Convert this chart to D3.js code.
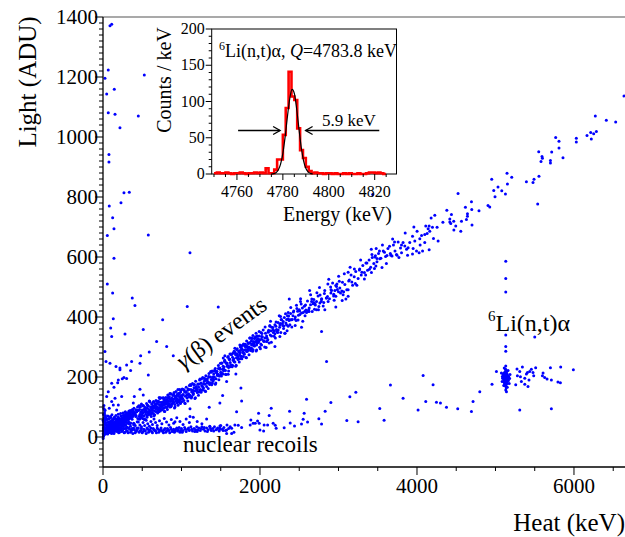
<!DOCTYPE html>
<html><head><meta charset="utf-8">
<script src="https://cdn.jsdelivr.net/npm/d3@7"></script>
<style>body{margin:0;background:#fff}svg{display:block}</style>
</head><body><svg id="c" width="625" height="537"></svg>
<script>
// ---------------- DATA (Heat keV, Light ADU) ----------------
const xTickLabels = [0, 2000, 4000, 6000];
const yTickLabels = [0, 200, 400, 600, 800, 1000, 1200, 1400];

const originBlob = [[5,12],[8,25],[10,18],[12,35],[15,8],[18,22],[20,45],[22,15],[25,30],[28,55],[30,10],[32,20],[35,40],[38,28],[40,15],[42,60],[45,22],[48,35],[50,12],[52,48],[55,28],[58,18],[60,38],[62,70],[65,25],[68,14],[70,50],[72,32],[75,20],[78,42],[80,60],[82,16],[85,28],[88,36],[90,22],[92,52],[95,14],[98,40],[100,30],[102,65],[105,18],[108,45],[110,25],[112,35],[115,55],[118,20],[120,40],[122,28],[125,48],[128,15],[130,33],[132,58],[135,24],[138,42],[140,30],[142,18],[145,50],[148,36],[150,26],[152,62],[155,40],[158,20],[160,46],[162,32],[165,54],[168,28],[170,38],[172,22],[175,48],[178,60],[180,34],[182,42],[185,26],[188,52],[190,36],[192,66],[195,44],[198,30],[200,56],[205,40],[208,48],[210,32],[215,60],[218,44],[220,52],[225,38],[228,70],[230,48],[235,56],[238,42],[240,64],[245,50],[248,36],[250,58],[255,46],[258,72],[260,52],[265,62],[268,44],[270,56],[275,68],[278,50],[280,60],[285,74],[288,54],[290,64],[295,48],[298,80],[300,60],[305,70],[308,56],[310,66],[315,78],[318,60],[320,70],[325,58],[328,84],[330,66],[335,74],[338,62],[340,80],[345,70],[348,88],[350,64],[355,76],[360,70],[365,84],[370,74],[375,92],[380,68],[385,80],[390,74],[395,96],[400,82],[410,76],[420,90],[430,84],[440,100],[450,88],
[15,60],[20,80],[10,95],[30,72],[8,50],[25,88],[12,105],[18,66],
[5,40],[14,30],[24,50],[34,66],[44,42],[54,58],[64,36],[74,62],[84,46],[94,68],[104,52],[114,74],[124,58],[134,40],[144,66],[154,48],[164,72],[174,56],[184,40],[194,76],[204,62],[214,48],[224,78],[234,60],[244,44],[254,80],[264,66],[274,38],[284,84],[294,70],
[3,10],[6,2],[2,-5],[9,5],[4,30],[1,55],[7,75],
[210,30],[230,24],[250,36],[270,28],[290,40],[310,32],[330,44],[350,36],[370,28],[390,46],[410,38],[430,30],[450,50],[470,40],[490,34],[510,48],[530,38],[550,56],[570,44],[590,36],[610,52],[630,42],[650,60],[670,48],[690,38],[720,54],[750,44],[780,62],[810,50],[840,40],[870,58],[900,46],[940,64],[980,52],[1020,42],[1060,60],[1100,48],[1150,66],[1200,52],[1260,44],[1320,60]];

const gammaBand = [[460,60],[465,92],[470,75],[475,100],[480,66],[485,84],[490,110],[495,72],
[500,90],[505,62],[510,80],[515,104],[520,70],[525,92],[530,84],[535,58],[540,98],[545,76],[550,88],[555,112],[560,70],[565,96],[570,82],[575,104],[580,74],[585,92],[590,120],[595,86],
[600,78],[605,100],[610,88],[615,68],[620,110],[625,94],[630,82],[635,104],[640,96],[645,76],[650,116],[655,100],[660,86],[665,108],[670,94],[675,122],[680,84],[685,102],[690,112],[695,90],
[700,98],[705,120],[710,84],[715,108],[720,96],[725,128],[730,104],[735,90],[740,116],[745,102],[750,110],[755,92],[760,130],[765,106],[770,118],[775,96],[780,124],[785,108],[790,114],[795,100],
[800,132],[805,110],[810,98],[815,124],[820,116],[825,140],[830,104],[835,120],[840,112],[845,134],[850,100],[855,126],[860,118],[865,144],[870,108],[875,130],[880,122],[885,112],[890,138],[895,124],
[900,116],[905,148],[910,128],[915,108],[920,136],[925,120],[930,152],[935,130],[940,114],[945,140],[950,126],[955,158],[960,118],[965,136],[970,146],[975,124],[980,132],[985,112],[990,150],[995,138],
[1000,128],[1010,160],[1020,142],[1030,122],[1040,150],[1050,136],[1060,166],[1070,130],[1080,156],[1090,144],[1100,172],[1110,138],[1120,158],[1130,150],[1140,178],[1150,142],[1160,164],[1170,154],[1180,186],[1190,160],
[1200,148],[1210,176],[1220,166],[1230,190],[1240,156],[1250,180],[1260,170],[1270,198],[1280,162],[1290,186],[1300,176],[1310,204],[1320,168],[1330,194],[1340,184],[1350,212],[1360,178],[1370,200],[1380,192],[1390,220],
[1400,186],[1410,210],[1420,200],[1430,228],[1440,194],[1450,218],[1460,208],[1470,238],[1480,204],[1490,226],[1500,216],[1510,246],[1520,212],[1530,236],[1540,226],[1550,256],[1560,222],[1570,246],[1580,236],[1590,266],
[1600,232],[1610,258],[1620,248],[1630,276],[1640,240],[1650,266],[1660,256],[1670,286],[1680,250],[1690,274],[1700,264],[1710,294],[1720,258],[1730,284],[1740,274],[1750,300],[1760,268],[1770,292],[1780,282],[1790,310],
[1800,276],[1810,302],[1820,292],[1830,320],[1840,286],[1850,312],[1860,300],[1870,330],[1880,296],[1890,320],[1900,310],[1910,338],[1920,304],[1930,328],[1940,318],[1950,346],[1960,312],[1970,336],[1980,326],[1990,352],
[3123,549],[3051,516],[3123,491],[3081,508],[3017,497],[3059,474],[3123,469],[2966,469],[3026,480],[2954,488],[2911,488],[2903,480],[2975,502],[2966,433],[3047,455],[3094,460],[2848,463],[2868,452],[2784,458],[2763,447],[2720,452],[2686,458],[2750,435],[2677,444],[2644,441],[2627,430],[2614,419],[2593,415],[2572,419],[2550,415],[2529,413],[2508,408],[2479,419],[2720,424],[2657,452],[2826,424],[2373,460],[2517,461],[2359,415],
[2359,393],[2402,391],[2338,374],[2275,391],[2253,374],[2296,385],[2232,357],[2203,369],[2168,357],[2190,344],[2147,337],[2126,369],[2105,352],[2084,337],[2041,357],[2062,330],[2020,335],[1999,324],[1965,337],[1956,318],[1913,318],[1935,330],[1893,307],[1871,330],[1850,313],[1829,302],[1795,307],[1766,296],[1744,307],[1702,291],[1680,296],[1659,280],[1617,277],[1595,268],[1553,271],[1532,263],[1744,280],[1829,285],[1893,296],[1956,307],[2020,307],[2084,318],[2117,313],[2190,302],[2359,369],[2253,335],[2317,346],
[2010,310],[2030,334],[2050,318],[2070,346],[2090,330],[2110,356],[2130,340],[2150,366],[2170,348],[2190,374],[2210,358],[2230,382],[2250,366],[2270,392],[2290,372],[2310,398],[2330,380],[2350,404],[2370,388],[2390,412],[2410,392],[2430,420],[2450,400],[2470,428],[2490,406],[2020,326],[2060,300],[2100,324],[2140,354],[2180,336],[2220,350],[2260,378],[2300,362],[2340,392],[2380,374],[2420,404],[2460,388],[2500,424],[2540,430],[2580,440],[2620,424],[2660,460],[2700,444],[2740,470],[2780,452],[2820,478],[2860,468],[2900,500],[2940,476],[2980,510],[3000,484],
[3130,520],[3160,540],[3180,506],[3200,534],[3220,552],[3250,528],[3270,560],[3290,540],[3310,572],[3330,548],[3350,580],[3370,556],[3390,590],[3410,566],[3430,598],[3450,578],[3470,604],[3490,584],[3510,612],[3540,596],[3570,620],[3600,602],[3630,628],[3660,612],[3700,640],[3720,620],[3760,650],[3790,630],
[4523,812],[4617,766],[4643,744],[4643,736],[4567,719],[4494,703],[4468,719],[4418,727],[4439,742],[4418,717],[4430,712],[4558,686],[4630,725],[4227,739],[4112,703],[4155,703],[4142,694],[4163,686],[4099,675],[4197,699],[4256,699],[4129,678],[4001,686],[4058,672],[3943,669],[4036,661],[3972,653],[3908,648],[4099,648],[3823,648],[3803,640],[3845,637],[3887,631],[3867,626],[3951,628],[3994,620],[4071,620],[4155,624],[4269,653],[3803,614],[3739,608],[3667,606],[3526,594],[3463,600],[3943,610],[4027,614],
[6637,1137],[6272,1070],[6412,1056],[6531,1050],[5767,998],[5809,986],[5809,963],[6030,996],[6030,983],[6166,1005],[6213,1015],[6251,1011],[6285,1018],[6221,993],[5551,951],[5593,935],[5598,929],[5580,918],[5716,950],[5700,922],[5700,913],[5860,931],[5147,879],[5207,866],[4952,859],[5032,833],[4978,822],[5080,821],[4994,801],[5127,810],[5152,843],[5394,851],[5478,848],[5491,859],[5554,869],[5538,777],[4694,784],[4698,758],[4790,754],[4905,772],[4927,767],[4701,707],
[3420,548],[3480,628],[3560,640],[3610,578],[3690,660],[3770,598],[3850,680],[3880,606],[3960,700],[4040,640],[4180,730],[4210,662],[4330,716],[4380,756],[4470,690]];

const gammaBandSpread = [[300,33],[313,71],[326,51],[339,85],[352,47],[365,69],[378,86],[391,41],[404,78],[417,68],[430,90],[443,62],[456,104],[469,60],[482,82],[495,75],[508,105],[521,60],[534,96],[547,86],[560,66],[573,103],[586,83],[599,117],[612,78],[625,100],[638,116],[651,71],[664,107],[677,97],[690,118],[703,90],[716,132],[729,87],[742,108],[755,102],[768,131],[781,86],[794,122],[807,112],[820,92],[833,129],[846,109],[859,143],[872,104],[885,126],[898,142],[911,97],[924,133],[937,123],[950,144],[963,116],[976,158],[989,113],[1002,134],[1015,128],[1028,158],[1041,113],[1054,150],[1067,140],[1080,120],[1093,158],[1106,138],[1119,172],[1132,134],[1145,156],[1158,173],[1171,128],[1184,165],[1197,155],[1210,177],[1223,150],[1236,193],[1249,149],[1262,172],[1275,166],[1288,196],[1301,153],[1314,190],[1327,181],[1340,162],[1353,200],[1366,181],[1379,216],[1392,179],[1405,201],[1418,219],[1431,176],[1444,214],[1457,205],[1470,228],[1483,203],[1496,246],[1509,203],[1522,226],[1535,221],[1548,252],[1561,209],[1574,247],[1587,238],[1600,220],[1613,259],[1626,240],[1639,275],[1652,238],[1665,261],[1678,279],[1691,236],[1704,273],[1717,264],[1730,287],[1743,261],[1756,304],[1769,261],[1782,284],[1795,279],[1808,309],[1821,265],[1834,302],[1847,293],[1860,274],[1873,313],[1886,293],[1899,328],[1912,291],[1925,313],[1938,331],[1951,287],[1964,324],[1977,315],[1990,337],
[306,73],[319,46],[332,87],[345,43],[358,65],[371,59],[384,88],[397,44],[410,81],[423,71],[436,51],[449,89],[462,69],[475,104],[488,65],[501,87],[514,103],[527,59],[540,95],[553,84],[566,106],[579,78],[592,119],[605,75],[618,96],[631,89],[644,118],[657,74],[670,110],[683,99],[696,80],[709,117],[722,96],[735,131],[748,92],[761,113],[774,129],[787,85],[800,121],[813,110],[826,132],[839,104],[852,145],[865,101],[878,122],[891,115],[904,144],[917,100],[930,136],[943,125],[956,106],[969,143],[982,122],[995,157],[1008,118],[1021,140],[1034,156],[1047,112],[1060,149],[1073,139],[1086,160],[1099,133],[1112,175],[1125,130],[1138,152],[1151,146],[1164,175],[1177,131],[1190,168],[1203,158],[1216,139],[1229,177],[1242,158],[1255,193],[1268,156],[1281,178],[1294,195],[1307,152],[1320,189],[1333,180],[1346,202],[1359,175],[1372,218],[1385,174],[1398,197],[1411,192],[1424,223],[1437,180],[1450,218],[1463,209],[1476,191],[1489,230],[1502,211],[1515,247],[1528,210],[1541,233],[1554,251],[1567,208],[1580,246],[1593,237],[1606,260],[1619,234],[1632,277],[1645,234],[1658,257],[1671,251],[1684,282],[1697,239],[1710,277],[1723,268],[1736,250],[1749,288],[1762,269],[1775,305],[1788,268],[1801,290],[1814,308],[1827,264],[1840,301],[1853,292],[1866,314],[1879,288],[1892,330],[1905,286],[1918,309],[1931,303],[1944,334],[1957,290],[1970,327],[1983,318],[1996,299],
[2005,294],[2025,345],[2045,321],[2065,367],[2085,318],[2105,349],[2125,372],[2145,316],[2165,365],[2185,353],[2205,383],[2225,348],[2245,404],[2265,348],[2285,378],[2305,370],[2325,411],[2345,354],[2365,403],[2385,391],[2405,367],[2425,417],[2445,393],[2465,439],[2485,390],[2505,420],[2525,443],[2545,386],[2565,436],[2585,423],[2605,453],[2625,418],[2645,474],[2665,418],[2685,448],[2705,440],[2725,481],[2745,424],[2765,473],[2785,461],[2805,437],[2825,488],[2845,463],[2865,510],[2885,461],[2905,491],[2925,513],[2945,456],[2965,505],[2985,492],
[3010,519],[3042,487],[3074,544],[3106,491],[3138,523],[3170,517],[3202,560],[3234,506],[3266,557],[3298,549],[3330,527],[3362,580],[3394,559],[3426,608],[3458,562],[3490,595],[3522,620],[3554,565],[3586,616],[3618,605],[3650,636],[3682,603],[3714,650],[3746,606],
[2012,348],[2078,298],[2134,386],[2196,330],[2262,402],[2318,346],[2392,432],[2448,372],[2516,452],[2574,404],[2632,488],[2694,426],[2758,498],[2812,448],[2876,526],[2938,470],[3002,536],[3066,484],[3148,566],[3214,512],[3282,590],[3346,540],[3418,626],[3476,570]];

const recoilBand = [[20,14],[40,20],[60,10],[80,24],[100,16],[120,22],[140,12],[160,26],[180,18],[200,14],[220,24],[240,18],[260,28],[280,16],[300,22],[320,14],[340,26],[360,20],[380,12],[400,24],[420,18],[440,28],[460,16],[480,22],[500,14],[520,26],[540,20],[560,30],[580,16],[600,24],[620,18],[640,28],[660,22],[680,14],[700,26],[720,20],[740,30],[760,18],[780,24],[800,16],[820,28],[840,22],[860,32],[880,18],[900,26],[920,20],[940,30],[960,24],[980,16],[1000,28],[1020,22],[1040,32],[1060,18],[1080,26],[1100,22],[1120,34],[1140,20],[1160,28],[1180,24],[1200,18],[1220,30],[1240,22],[1260,34],[1280,26],[1300,20],[1320,30],[1340,24],[1360,36],[1380,22],[1400,28],[1420,34],[1440,24],[1460,30],[1480,20],[1500,38],[1520,26],[1540,32],[1560,22],[1580,40],[1600,28],[1620,34],
[10,22],[30,28],[50,18],[70,30],[90,24],[110,12],[130,28],[150,20],[170,30],[190,22],[210,16],[230,30],[250,22],[270,14],[290,28],[310,20],[330,30],[350,16],[370,24],[390,30],[410,14],[430,22],[450,30],[470,20],[490,28],[510,18],[530,22],[550,12],[570,26],[590,20],[610,30],[630,14],[650,24],[670,20],[690,30],[710,16],[730,24],[750,22],[770,14],[790,28],[810,20],[830,24],[850,14],[870,26],[890,22],[910,16],[930,26],[950,20],[970,32],[990,22],[1010,16],[1050,26],[1090,30],[1130,26],[1170,18],[1210,24],[1250,28],[1290,32],[1330,18],[1370,28],[1410,20],[1450,26],[1490,30],[1530,22],
[1489,37],[1489,26],[1575,23],[1639,29],[1680,40],[1723,39],[1766,32],[1575,12],[1639,12],[1668,16]];

const strayPoints = [[89,1371],[111,1376],[67,1223],[25,1196],[526,1207],[144,1159],[47,1143],[67,1081],[153,1076],[450,1070],[216,1031],[76,942],[76,917],[267,814],[335,816],[229,781],[80,770],[123,731],[140,694],[55,672],[577,673],[140,596],[1108,614],[55,510],[123,480],[373,463],[3436,808],
[407,438],[1073,435],[1468,433],[131,394],[760,391],[513,358],[98,363],[280,343],[683,318],[589,283],[25,285],[38,252],[89,246],[365,252],[352,222],[480,271],[471,246],[301,240],[216,230],[267,198],[187,181],[140,166],[246,194],[301,195],[399,135],[471,159],[2784,352],[2848,252],[1108,94],[1353,99],[2593,126],
[166,235],[216,224],[577,207],[195,190],[111,179],[67,151],[47,135],[153,129],[238,135],[513,140],[111,118],[195,107],[25,90],[80,96],[131,107],[174,90],[258,79],[386,113],[471,101],[917,51],[1108,68],[1193,34],[1362,34],[811,302],[895,271],[111,335],
[4078,205],[4205,174],[3662,173],[3145,134],[3221,149],[3823,129],[4112,118],[4248,116],[4299,113],[4376,99],[4519,94],[4694,85],[4714,118],[4800,151],[4014,90],[3526,95],[3581,56],[3250,51],[3106,55],[2903,115],[2830,86],[2750,61],[2784,43],[2563,79],[2550,59],[2529,43],[2606,50],[2377,86],[2385,47],[2440,37],[2308,31],[2143,96],[2117,72],[2168,46],[2194,39],[2206,29],[2097,40],[2053,40],[1982,79],[1969,53],[1990,46],[1999,23],[2046,20],[1913,46],[1884,57],[1875,40],[1939,46],[1489,113],[1524,138],[1766,120],[1757,163],[1702,84],[1575,185],[1693,210],[1595,209],[2529,366]];

const liPoints = [[5131,196],[5120,190],[5142,202],[5110,200],[5150,188],[5125,210],[5138,184],[5115,178],[5145,212],[5128,176],[5135,220],[5105,192],[5160,196],[5118,206],[5148,180],[5132,170],[5122,186],[5140,194],[5112,214],[5155,206],[5127,200],[5137,190],[5117,196],[5145,198],[5130,184],[5124,216],[5139,176],[5108,184],[5152,192],[5133,208],[5119,172],[5143,218],[5100,204],[5165,188],[5128,226],[5136,164],[5090,196],[5170,200],[5126,192],[5134,200],
[5085,185],[5180,195],[5095,210],[5175,178],[5105,172],[5160,222],[5088,202],[5185,208],[5112,230],[5150,166],
[5131,586],[5131,528],[5131,483],[5131,340],[5131,302],[5131,286],[5131,237],[5131,224],[5140,151],[5131,157],[5148,185],
[5012,218],[5075,213],[4956,176],[5258,174],[5279,204],[5309,218],[5274,227],[5343,233],[5318,201],[5330,185],[5373,196],[5373,176],[5414,168],[5394,210],[5407,215],[5436,218],[5457,226],[5512,231],[5478,215],[5487,204],[5427,190],[5606,213],[5598,204],[5627,198],[5657,193],[5700,231],[5712,190],[5796,183],[5827,181],[5831,233],[5992,224],[5500,333],[5309,90],[5712,94]];

// Inset: histogram (bin start 4750, width 1.25 keV)
const histStart = 4750;
const histBinWidth = 1.25;
const histCounts = [1,2,1,1,2,1,0,1,1,2,1,0,1,1,2,1,2,1,8,1,1,6,20,20,54,91,141,107,102,63,33,22,10,4,1,2,1,1,0,1,1,0,1,0,0,1,0,1,0,0,1,0,0,1,2,2,1,2,1,0];
const fitEnergy = [4775,4776,4777,4778,4779,4780,4781,4782,4783,4784,4785,4786,4787,4788,4789,4790,4791,4792,4793];
const fitCounts = [0.1,0.5,1.8,5.4,13.5,28.5,51.6,79.5,104,116.6,111,90,62.5,36.9,18.5,7.9,2.9,0.9,0.2];
const insetXTicks = [4760, 4780, 4800, 4820];
const insetYTicks = [0, 50, 100, 150, 200];

// ---------------- DRAW ----------------
const FONT = '"Liberation Serif"';
const svg = d3.select("#c");
const T = (sel) => sel.append("text").style("font-family", FONT).attr("fill", "#000");
const x = d3.scaleLinear().domain([0, 6650]).range([103, 625]);
const y = d3.scaleLinear().domain([-100, 1400]).range([467, 17]);

const allPts = [].concat(originBlob, recoilBand, gammaBand, gammaBandSpread, strayPoints, liPoints);
svg.append("g").selectAll("circle").data(allPts).join("circle")
  .attr("cx", d => x(d[0])).attr("cy", d => y(d[1])).attr("r", 1.5).attr("fill", "#0000ff");

svg.append("line").attr("x1", x(0)).attr("x2", 625).attr("y1", y(1400)).attr("y2", y(1400))
  .attr("stroke", "#8c8c8c").attr("stroke-width", 1.5);

const ax = svg.append("g").attr("stroke", "#000").attr("stroke-width", 1);
ax.append("line").attr("x1", x(0)).attr("x2", x(0)).attr("y1", y(-100)).attr("y2", y(1400)).attr("stroke-width", 1.3);
d3.range(-100, 1401, 20).forEach(v => {
  const major = v % 200 === 0;
  ax.append("line").attr("x1", x(0)).attr("x2", x(0) - (major ? 8 : 4)).attr("y1", y(v)).attr("y2", y(v));
});
ax.append("line").attr("x1", x(0)).attr("x2", 625).attr("y1", y(-100)).attr("y2", y(-100)).attr("stroke-width", 1.3);
d3.range(0, 6651, 500).forEach(v => {
  const major = v % 2000 === 0;
  ax.append("line").attr("x1", x(v)).attr("x2", x(v)).attr("y1", y(-100)).attr("y2", y(-100) + (major ? 8 : 4));
});

const txt = svg.append("g");
yTickLabels.forEach(v => T(txt).attr("x", x(0) - 5).attr("y", y(v) + 7)
  .attr("text-anchor", "end").attr("font-size", 21).text(v));
xTickLabels.forEach(v => T(txt).attr("x", x(v)).attr("y", 493)
  .attr("text-anchor", "middle").attr("font-size", 21).text(v));

T(txt).attr("transform", "translate(36,82) rotate(-90)").attr("text-anchor", "middle")
  .attr("font-size", 25).text("Light (ADU)");
T(txt).attr("x", 625).attr("y", 531).attr("text-anchor", "end")
  .attr("font-size", 25).text("Heat (keV)");

const ev = T(txt).attr("transform", "translate(226,339) rotate(-36)").attr("text-anchor", "middle").attr("font-size", 24);
ev.append("tspan").attr("font-style", "italic").text("γ");
ev.append("tspan").text("(β) events");
T(txt).attr("x", 183).attr("y", 452).attr("font-size", 23).text("nuclear recoils");
const li = T(txt).attr("x", 488).attr("y", 331).attr("font-size", 24);
li.append("tspan").attr("font-size", 15).attr("dy", -10).text("6");
li.append("tspan").attr("dy", 10).text("Li(n,t)α");

// ---------------- INSET ----------------
const xi = d3.scaleLinear().domain([4749, 4829.5]).range([211.7, 396.5]);
const yi = d3.scaleLinear().domain([0, 200]).range([174, 29]);
const ins = svg.append("g");
ins.append("rect").attr("x", xi(4749)).attr("y", yi(200)).attr("width", xi(4829.5) - xi(4749)).attr("height", yi(0) - yi(200))
  .attr("fill", "#fff").attr("stroke", "#000").attr("stroke-width", 1);

const histPts = histCounts.map((c, i) => [histStart + i * histBinWidth, c]);
histPts.push([histStart + histCounts.length * histBinWidth, histCounts[histCounts.length - 1]]);
ins.append("path").attr("d", d3.line().x(d => xi(d[0])).y(d => yi(d[1])).curve(d3.curveStepAfter)(histPts))
  .attr("fill", "none").attr("stroke", "#ff0000").attr("stroke-width", 2.6);
ins.append("path").attr("d", d3.line().x((d, i) => xi(fitEnergy[i])).y(d => yi(d)).curve(d3.curveMonotoneX)(fitCounts))
  .attr("fill", "none").attr("stroke", "#000").attr("stroke-width", 1.2);

const it = ins.append("g").attr("stroke", "#000").attr("stroke-width", 1);
d3.range(0, 201, 10).forEach(v => {
  const major = v % 50 === 0;
  it.append("line").attr("x1", xi(4749)).attr("x2", xi(4749) - (major ? 6 : 3)).attr("y1", yi(v)).attr("y2", yi(v));
});
d3.range(4750, 4830, 5).forEach(v => {
  const major = (v - 4760) % 20 === 0;
  it.append("line").attr("x1", xi(v)).attr("x2", xi(v)).attr("y1", yi(0)).attr("y2", yi(0) + (major ? 6 : 3));
});
insetYTicks.forEach(v => T(ins).attr("x", xi(4749) - 7).attr("y", yi(v) + 5)
  .attr("text-anchor", "end").attr("font-size", 16).text(v));
insetXTicks.forEach(v => T(ins).attr("x", xi(v)).attr("y", 197)
  .attr("text-anchor", "middle").attr("font-size", 16).text(v));
T(ins).attr("transform", "translate(171,80) rotate(-90)").attr("text-anchor", "middle")
  .attr("font-size", 20).text("Counts / keV");
T(ins).attr("x", 392).attr("y", 221).attr("text-anchor", "end").attr("font-size", 20).text("Energy (keV)");
const tt = T(ins).attr("x", 219).attr("y", 57).attr("font-size", 18);
tt.append("tspan").attr("font-size", 12).attr("dy", -7).text("6");
tt.append("tspan").attr("dy", 7).text("Li(n,t)α, ");
tt.append("tspan").attr("font-style", "italic").text("Q");
tt.append("tspan").text("=4783.8 keV");
T(ins).attr("x", 322).attr("y", 126).attr("font-size", 17).text("5.9 keV");

const ay = yi(60);
const arr = ins.append("g").attr("stroke", "#000").attr("stroke-width", 1.3).attr("fill", "none");
const lt = xi(4778.8), rt = xi(4789.9);
arr.append("line").attr("x1", xi(4760.5)).attr("x2", lt).attr("y1", ay).attr("y2", ay);
arr.append("path").attr("d", `M${lt - 7},${ay - 4}L${lt},${ay}L${lt - 7},${ay + 4}`);
arr.append("line").attr("x1", xi(4822)).attr("x2", rt).attr("y1", ay).attr("y2", ay);
arr.append("path").attr("d", `M${rt + 7},${ay - 4}L${rt},${ay}L${rt + 7},${ay + 4}`);
</script>
</body></html>
